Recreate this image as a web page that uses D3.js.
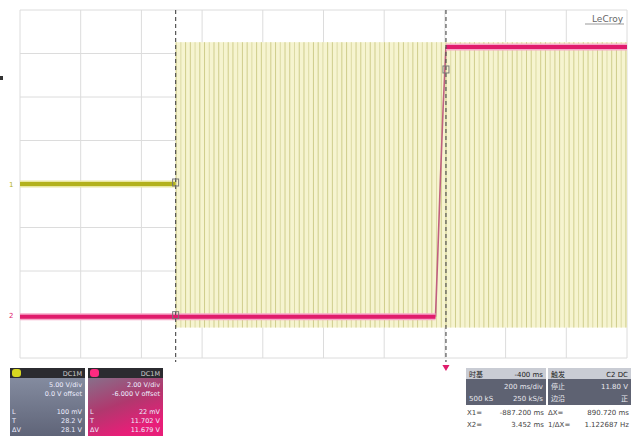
<!DOCTYPE html>
<html>
<head>
<meta charset="utf-8">
<script src="https://cdn.jsdelivr.net/npm/d3@7"></script>
<style>
  body { margin: 0; background: #fff; }
  svg { display: block; font-family: "DejaVu Sans", "Noto Sans CJK SC", sans-serif; }
</style>
</head>
<body>
<div id="container"></div>
<script>
/* CONSTANTS AND GLOBALS */
const width = 631, height = 436;
const margin = ({top: 10, right: 4, bottom: 78, left: 20});

// time axis (ms), 200 ms/div, delay -400 ms
const timeDomain = [-1400, 600];
const divsX = 10, divsY = 8;

// channel 1 (yellow)
const c1VoltsPerDiv = 5, c1Offset = 0;
const c1Idle = [{t: -1400, v: 0}, {t: -887.2, v: 0}];
const c1Burst = {start: -887.2, end: 600, period: 15.6, hi: 16.3, lo: -16.5};

// channel 2 (magenta)
const c2VoltsPerDiv = 2, c2Offset = -6;
const c2Low = [{t: -1400, v: -0.1}, {t: -31, v: -0.1}];
const c2Edge = [{t: -31, v: -0.1}, {t: -24, v: 2.5}, {t: -15, v: 6.2}, {t: -6, v: 9.6}, {t: 3.45, v: 12.3}];
const c2High = [{t: 3.45, v: 12.3}, {t: 600, v: 12.3}];

// cursors
const cursors = [-887.2, 3.452];

// readout texts
const c1Text = ["5.00 V/div", "0.0 V offset"];
const c1Meas = [["L", "100 mV"], ["T", "28.2 V"], ["ΔV", "28.1 V"]];
const c2Text = ["2.00 V/div", "-6.000 V offset"];
const c2Meas = [["L", "22 mV"], ["T", "11.702 V"], ["ΔV", "11.679 V"]];
const tbRows = [["时基", "-400 ms"], ["", "200 ms/div"], ["500 kS", "250 kS/s"]];
const trRows = [["触发", "C2 DC"], ["停止", "11.80 V"], ["边沿", "正"]];
const cursorLines = [["X1=", "-887.200 ms", "ΔX=", "890.720 ms"], ["X2=", "3.452 ms", "1/ΔX=", "1.122687 Hz"]];

/* SCALES */
const xScale = d3.scaleLinear(timeDomain, [margin.left, width - margin.right]);
const yDiv = d3.scaleLinear([-divsY / 2, divsY / 2], [height - margin.bottom, margin.top]);
const y1 = v => yDiv((v + c1Offset) / c1VoltsPerDiv);
const y2 = v => yDiv((v + c2Offset) / c2VoltsPerDiv);

const svg = d3.select("#container").append("svg")
  .attr("width", width).attr("height", height);

svg.append("rect").attr("width", width).attr("height", height).attr("fill", "#fff");

/* GRID */
const grid = svg.append("g");
const xTicks = d3.range(divsX + 1).map(i => timeDomain[0] + i * (timeDomain[1] - timeDomain[0]) / divsX);
grid.selectAll("line.vx").data(xTicks).join("line")
  .attr("x1", d => xScale(d)).attr("x2", d => xScale(d))
  .attr("y1", yDiv(4)).attr("y2", yDiv(-4))
  .attr("stroke", "#dcdcdc").attr("stroke-width", 1);
grid.selectAll("line.hy").data(d3.range(-4, 5)).join("line")
  .attr("class", "hy")
  .attr("x1", xScale(timeDomain[0])).attr("x2", xScale(timeDomain[1]))
  .attr("y1", d => yDiv(d)).attr("y2", d => yDiv(d))
  .attr("stroke", "#dcdcdc").attr("stroke-width", 1);

/* CHANNEL 1 */
const line1 = d3.line().x(d => xScale(d.t)).y(d => y1(d.v));
svg.append("rect")
  .attr("x", xScale(c1Burst.start)).attr("y", y1(c1Burst.hi))
  .attr("width", xScale(c1Burst.end) - xScale(c1Burst.start))
  .attr("height", y1(c1Burst.lo) - y1(c1Burst.hi))
  .attr("fill", "#f6f4d0");
const cycles = d3.range(c1Burst.start, c1Burst.end, c1Burst.period);
svg.append("g").selectAll("line").data(cycles).join("line")
  .attr("x1", d => xScale(d) + 0.5).attr("x2", d => xScale(d) + 0.5)
  .attr("y1", y1(c1Burst.hi)).attr("y2", y1(c1Burst.lo))
  .attr("stroke", (d, i) => i % 3 === 1 ? "#dcdaa4" : "#cfcd8c").attr("stroke-width", 1);
svg.append("path").datum(c1Idle).attr("d", line1)
  .attr("fill", "none").attr("stroke", "#e9e7a0").attr("stroke-width", 7);
svg.append("path").datum(c1Idle).attr("d", line1)
  .attr("fill", "none").attr("stroke", "#b3b11c").attr("stroke-width", 4);

/* CHANNEL 2 */
const line2 = d3.line().x(d => xScale(d.t)).y(d => y2(d.v));
svg.append("path").datum(c2Edge).attr("d", line2.curve(d3.curveBasis))
  .attr("fill", "none").attr("stroke", "#c0607f").attr("stroke-width", 1.6);
line2.curve(d3.curveLinear);
[c2Low, c2High].forEach(seg => {
  svg.append("path").datum(seg).attr("d", line2)
    .attr("fill", "none").attr("stroke", "#f7a8c8").attr("stroke-width", 7);
  svg.append("path").datum(seg).attr("d", line2)
    .attr("fill", "none").attr("stroke", "#e01c6c").attr("stroke-width", 4);
});

/* CURSORS */
svg.selectAll("line.cur").data(cursors).join("line")
  .attr("class", "cur")
  .attr("x1", d => xScale(d)).attr("x2", d => xScale(d))
  .attr("y1", yDiv(4)).attr("y2", yDiv(-4) + 4)
  .attr("stroke", "#555").attr("stroke-width", 1.2).attr("stroke-dasharray", "4,3");
const marks = [[cursors[0], y1(0)], [cursors[0], y2(-0.1)], [cursors[1], y2(12.3) + 24]];
svg.selectAll("rect.mk").data(marks).join("rect")
  .attr("x", d => xScale(d[0]) - 3).attr("y", d => d[1] - 5)
  .attr("width", 6).attr("height", 7)
  .attr("fill", "none").attr("stroke", "#777").attr("stroke-width", 1);

// channel markers at left
svg.append("text").attr("x", 9).attr("y", y1(0) + 3).attr("font-size", 7).attr("fill", "#b3b11c").text("1");
svg.append("text").attr("x", 9).attr("y", y2(0) + 3).attr("font-size", 7).attr("fill", "#e01c6c").text("2");
svg.append("rect").attr("x", 0).attr("y", 76).attr("width", 3).attr("height", 4).attr("fill", "#333");

// trigger position marker
svg.append("path")
  .attr("d", d3.symbol(d3.symbolTriangle, 22)())
  .attr("transform", `translate(${xScale(cursors[1])},${yDiv(-4) + 9}) rotate(180)`)
  .attr("fill", "#e01c6c");

// LeCroy logo
svg.append("text").attr("x", width - 8).attr("y", 22).attr("text-anchor", "end")
  .attr("font-size", 9).attr("fill", "#666").text("LeCroy");
svg.append("line").attr("x1", 585).attr("x2", 624).attr("y1", 24).attr("y2", 24)
  .attr("stroke", "#999").attr("stroke-width", 1);

/* CHANNEL DESCRIPTOR BOXES */
const defs = svg.append("defs");
const g1 = defs.append("linearGradient").attr("id", "g1").attr("x1", 0).attr("y1", 0).attr("x2", 0).attr("y2", 1);
g1.append("stop").attr("offset", 0).attr("stop-color", "#8a92a6");
g1.append("stop").attr("offset", 1).attr("stop-color", "#5f6478");
const g2 = defs.append("linearGradient").attr("id", "g2").attr("x1", 0).attr("y1", 0).attr("x2", 0.4).attr("y2", 1);
g2.append("stop").attr("offset", 0).attr("stop-color", "#7c7f92");
g2.append("stop").attr("offset", 0.6).attr("stop-color", "#b0386e");
g2.append("stop").attr("offset", 1).attr("stop-color", "#e81e78");

function chanBox(x, color, grad, txt, meas) {
  const g = svg.append("g").attr("transform", `translate(${x},368)`);
  g.append("rect").attr("width", 75).attr("height", 68).attr("fill", `url(#${grad})`);
  g.append("rect").attr("width", 75).attr("height", 10).attr("fill", "#2b2b30");
  g.append("rect").attr("x", 2).attr("y", 1).attr("width", 9).attr("height", 8).attr("rx", 3).attr("fill", color);
  g.append("text").attr("x", 72).attr("y", 8).attr("text-anchor", "end").attr("font-size", 6.5)
    .attr("fill", "#ccc").text("DC1M");
  txt.forEach((t, i) => g.append("text").attr("x", 72).attr("y", 19 + i * 9)
    .attr("text-anchor", "end").attr("font-size", 6.5).attr("fill", "#eef").text(t));
  meas.forEach((m, i) => {
    g.append("text").attr("x", 2).attr("y", 46 + i * 9).attr("font-size", 6.5).attr("fill", "#eef").text(m[0]);
    g.append("text").attr("x", 72).attr("y", 46 + i * 9).attr("text-anchor", "end")
      .attr("font-size", 6.5).attr("fill", "#eef").text(m[1]);
  });
}
chanBox(10, "#d8d820", "g1", c1Text, c1Meas);
chanBox(88, "#ff2a80", "g2", c2Text, c2Meas);

/* TIMEBASE / TRIGGER BOXES */
function infoBox(x, w, rows) {
  const g = svg.append("g").attr("transform", `translate(${x},368)`);
  g.append("rect").attr("width", w).attr("height", 37).attr("fill", "#5e6272");
  g.append("rect").attr("width", w).attr("height", 11).attr("fill", "#c9ccd4");
  rows.forEach((r, i) => {
    const c = i === 0 ? "#222" : "#e8e8ee";
    g.append("text").attr("x", 3).attr("y", 9 + i * 12).attr("font-size", 7).attr("fill", c).text(r[0]);
    g.append("text").attr("x", w - 3).attr("y", 9 + i * 12).attr("text-anchor", "end")
      .attr("font-size", 7).attr("fill", c).text(r[1]);
  });
}
infoBox(466, 80, tbRows);
infoBox(548, 83, trRows);

cursorLines.forEach((l, i) => {
  const yy = 415 + i * 12;
  svg.append("text").attr("x", 467).attr("y", yy).attr("font-size", 7).attr("fill", "#444").text(l[0]);
  svg.append("text").attr("x", 544).attr("y", yy).attr("text-anchor", "end").attr("font-size", 7).attr("fill", "#444").text(l[1]);
  svg.append("text").attr("x", 548).attr("y", yy).attr("font-size", 7).attr("fill", "#444").text(l[2]);
  svg.append("text").attr("x", 629).attr("y", yy).attr("text-anchor", "end").attr("font-size", 7).attr("fill", "#444").text(l[3]);
});
</script>
</body>
</html>
